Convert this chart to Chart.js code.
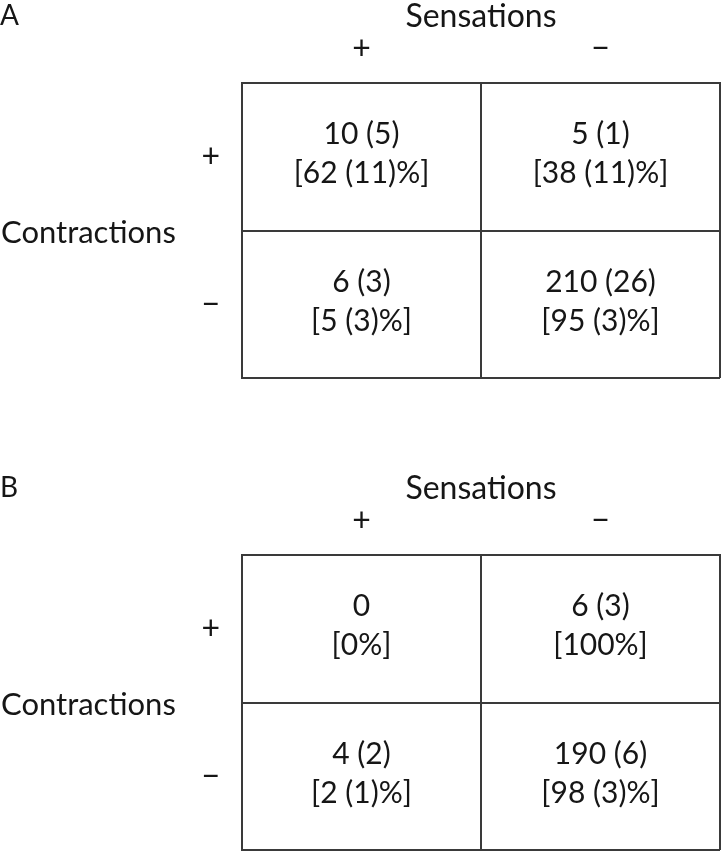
<!DOCTYPE html>
<html>
<head>
<meta charset="utf-8">
<script src="https://cdn.jsdelivr.net/npm/chart.js@4.4.1/dist/chart.umd.min.js"></script>
<style>
  body { margin: 0; background: #fff; }
  .panel { position: absolute; left: 0; }
  #panelA { top: 0; }
  #panelB { top: 472px; }
</style>
</head>
<body>
<div class="panel" id="panelA"><canvas id="chartA" width="722" height="381"></canvas></div>
<div class="panel" id="panelB"><canvas id="chartB" width="722" height="381"></canvas></div>
<script>
// axis categories
const sensationLabels = ['+', '−'];
const contractionLabels = ['+', '−'];
const xTitle = 'Sensations';
const yTitle = 'Contractions';

// cell order: (C+,S+), (C+,S-), (C-,S+), (C-,S-)
const cellSensation = ['+', '−', '+', '−'];
const cellContraction = ['+', '+', '−', '−'];

// panel A: counts, sd, percentage, sd of percentage
const countA = [10, 5, 6, 210];
const countSdA = [5, 1, 3, 26];
const pctA = [62, 38, 5, 95];
const pctSdA = [11, 11, 3, 3];

// panel B
const countB = [0, 6, 4, 190];
const countSdB = [null, 3, 2, 6];
const pctB = [0, 100, 2, 98];
const pctSdB = [null, null, 1, 3];

const FONT = 'Lato, "Liberation Sans", sans-serif';
const INK = '#161616';
const LINE = '#3a3a3a';

function fmtCount(v, sd) {
    return sd == null ? String(v) : v + ' (' + sd + ')';
}
function fmtPct(v, sd) {
    return sd == null ? '[' + v + '%]' : '[' + v + ' (' + sd + ')%]';
}

// draws the two text lines into each cell, the panel letter and the row title
const tableText = {
    id: 'tableText',
    afterDatasetsDraw(chart, args, opts) {
        const ctx = chart.ctx;
        const meta = chart.getDatasetMeta(0);
        const ds = chart.data.datasets[0];
        ctx.save();
        ctx.fillStyle = INK;
        ctx.textAlign = 'center';
        ctx.textBaseline = 'middle';
        ctx.font = '30px ' + FONT;
        meta.data.forEach((pt, i) => {
            const d = ds.data[i];
            ctx.fillText(d.line1, pt.x, pt.y - 22);
            ctx.fillText(d.line2, pt.x, pt.y + 17);
        });
        // panel letter
        ctx.textAlign = 'left';
        ctx.font = '28px ' + FONT;
        ctx.fillText(opts.letter, 0, 16);
        // horizontal row title
        ctx.font = '31px ' + FONT;
        const area = chart.chartArea;
        ctx.fillText(yTitle, 1, (area.top + area.bottom) / 2 + 2);
        ctx.restore();
    }
};

function makePanel(canvasId, letter, counts, countSds, pcts, pctSds) {
    const points = counts.map((c, i) => ({
        x: cellSensation[i],
        y: cellContraction[i],
        line1: fmtCount(c, countSds[i]),
        line2: fmtPct(pcts[i], pctSds[i])
    }));

    return new Chart(document.getElementById(canvasId), {
        type: 'scatter',
        data: {
            datasets: [{
                data: points,
                pointRadius: 0,
                pointHoverRadius: 0
            }]
        },
        plugins: [tableText],
        options: {
            responsive: false,
            animation: false,
            events: [],
            layout: { padding: { left: 0, right: 2, top: 0, bottom: 3 } },
            plugins: {
                legend: { display: false },
                tooltip: { enabled: false },
                tableText: { letter: letter }
            },
            scales: {
                x: {
                    type: 'category',
                    position: 'top',
                    labels: sensationLabels,
                    offset: true,
                    grid: { offset: true, color: LINE, lineWidth: 2, drawTicks: false },
                    border: { display: true, color: LINE, width: 2 },
                    ticks: { color: INK, padding: 15, font: { family: FONT, size: 32 } },
                    title: {
                        display: true,
                        text: xTitle,
                        color: INK,
                        padding: { top: -3, bottom: 0 },
                        font: { family: FONT, size: 32 }
                    },
                    afterFit(scale) { scale.height = 83; }
                },
                y: {
                    type: 'category',
                    labels: contractionLabels,
                    offset: true,
                    grid: { offset: true, color: LINE, lineWidth: 2, drawTicks: false },
                    border: { display: true, color: LINE, width: 2 },
                    ticks: { color: INK, padding: 22, font: { family: FONT, size: 32 } },
                    afterFit(scale) {
                        scale.width = 242;
                        // no extra room above/below for the row labels
                        scale.paddingTop = 0;
                        scale.paddingBottom = 0;
                    }
                }
            }
        }
    });
}

makePanel('chartA', 'A', countA, countSdA, pctA, pctSdA);
makePanel('chartB', 'B', countB, countSdB, pctB, pctSdB);
</script>
</body>
</html>
